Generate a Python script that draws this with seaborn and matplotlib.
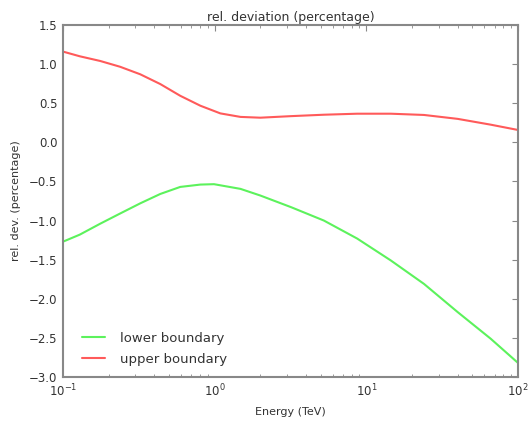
import numpy as np
import pandas as pd
import matplotlib
matplotlib.use("Agg")
import matplotlib.pyplot as plt
import seaborn as sns
from matplotlib.ticker import LogLocator

# Data
energy_lower = [0.1, 0.129, 0.176, 0.238, 0.323, 0.438, 0.593, 0.805, 0.99, 1.48, 2.0,
                3.2, 5.25, 8.7, 14.5, 24, 40, 66, 100]
dev_lower = [-1.27, -1.18, -1.04, -0.91, -0.78, -0.66, -0.57, -0.54, -0.535, -0.595, -0.68,
             -0.83, -1.0, -1.23, -1.51, -1.81, -2.17, -2.51, -2.82]

energy_upper = [0.1, 0.129, 0.176, 0.238, 0.323, 0.438, 0.593, 0.805, 1.09, 1.48, 2.0,
                3.2, 5.25, 8.7, 14.5, 24, 40, 66, 100]
dev_upper = [1.16, 1.10, 1.04, 0.966, 0.87, 0.745, 0.595, 0.468, 0.37, 0.325, 0.315,
             0.335, 0.353, 0.366, 0.366, 0.35, 0.30, 0.226, 0.158]

series_names = ["lower boundary", "upper boundary"]
series_colors = ["#5cf25c", "#ff5a5a"]

title = "rel. deviation (percentage)"
xlabel = "Energy (TeV)"
ylabel = "rel. dev. (percentage)"
yticks = [-3.0, -2.5, -2.0, -1.5, -1.0, -0.5, 0.0, 0.5, 1.0, 1.5]

df = pd.concat([
    pd.DataFrame({"energy": energy_lower, "dev": dev_lower, "series": series_names[0]}),
    pd.DataFrame({"energy": energy_upper, "dev": dev_upper, "series": series_names[1]}),
])

sns.set_theme(style="white")
plt.rcParams["font.family"] = ["DejaVu Sans"]
text_color = "#333333"

fig = plt.figure(figsize=(5.31, 4.25), dpi=100)
ax = fig.add_axes([63 / 531, 1 - 377 / 425, (518 - 63) / 531, (377 - 25) / 425])

sns.lineplot(data=df, x="energy", y="dev", hue="series", hue_order=series_names,
             palette=series_colors, linewidth=1.5, ax=ax, sort=False, estimator=None)

ax.set_xscale("log")
ax.set_xlim(0.1, 100)
ax.set_ylim(-3.0, 1.5)
ax.set_yticks(yticks)
ax.set_yticklabels([f"{v:.1f}".replace("-", "\u2212") for v in yticks])
ax.xaxis.set_minor_locator(LogLocator(base=10, subs=np.arange(2, 10)))

for s in ax.spines.values():
    s.set_color("#888888")
    s.set_linewidth(1.5)

ax.tick_params(axis="both", which="major", direction="in", length=4, width=0.8,
               color="#888888", labelsize=8.5, labelcolor=text_color,
               top=True, right=True, pad=4)
ax.tick_params(axis="x", which="minor", direction="in", length=2, width=0.6,
               color="#888888", top=True, bottom=True)

ax.set_title(title, fontsize=9, color=text_color, pad=3)
ax.set_xlabel(xlabel, fontsize=8, color=text_color, labelpad=6)
ax.set_ylabel(ylabel, fontsize=8, color=text_color, labelpad=6)

leg = ax.legend(loc="lower left", frameon=False, fontsize=9.5, handlelength=1.75,
                handletextpad=1.15, borderaxespad=0.6, labelspacing=0.6,
                bbox_to_anchor=(0.012, -0.005))
for t in leg.get_texts():
    t.set_color(text_color)

fig.savefig("out.png", dpi=100, facecolor="white")
